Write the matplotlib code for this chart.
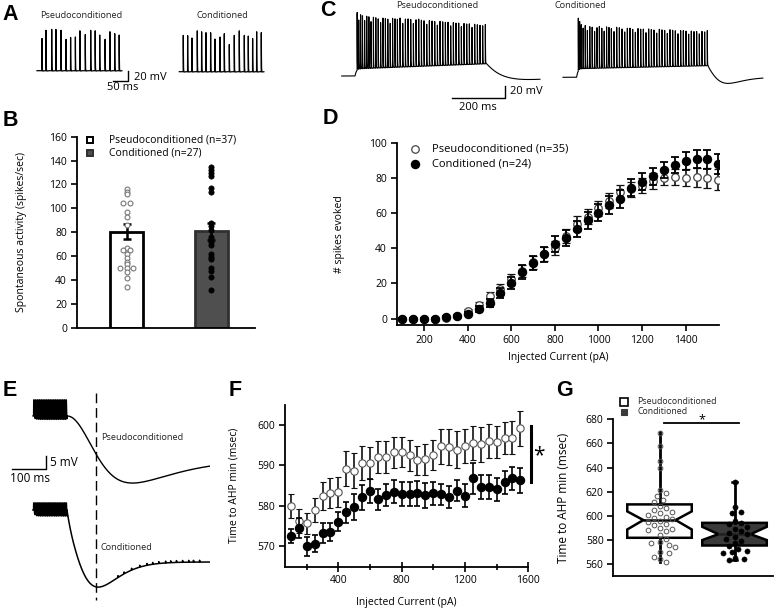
import numpy as np
import matplotlib
matplotlib.use("Agg")
import matplotlib.pyplot as plt
from matplotlib.lines import Line2D
from matplotlib.ticker import FixedLocator

plt.rcParams['font.family'] = ['Open Sans', 'DejaVu Sans']

W, H = 775, 611
fig = plt.figure(figsize=(W / 100, H / 100), dpi=100)

# ======================= DATA =======================
groups = ['Pseudoconditioned', 'Conditioned']

# Panel A: spontaneous firing examples (spike time ms, amplitude mV)
a_pseudo_times = [16.7, 30, 49, 63, 80, 96.7, 112, 128, 143, 161, 179, 194, 209, 227, 243, 259, 274]
a_pseudo_amps = [71, 85, 87, 87, 85, 69, 70, 71, 84, 76, 85, 84, 75, 66, 82, 78, 75]
a_cond_times = [13.3, 27.8, 42.2, 60, 74.4, 88.9, 104.4, 118.9, 135.6, 150, 166.7, 183.3,
                200, 216.7, 230, 244.4, 257.8, 273.3]
a_cond_amps = [80, 76, 71, 86, 84, 86, 82, 72, 73, 80, 60, 80, 86, 80, 75, 70, 84, 86]

# Panel C: evoked firing examples (first spike ms, inter-spike intervals ms, amplitudes mV)
c_pseudo_first = 58
c_pseudo_isi = [6, 7, 7, 8, 8, 8, 8] + [9] * 11 + [10] * 33
c_pseudo_amps = [94, 80, 88, 86, 78, 85, 84, 76, 83, 82,
                 80, 74, 81, 80, 79, 72, 80, 79, 78, 80,
                 71, 78, 78, 77, 70, 76, 77, 75, 74, 68,
                 74, 73, 72, 66, 72, 71, 70, 70, 64, 69,
                 68, 68, 62, 67, 66, 66, 60, 65, 64, 63,
                 62, 64]
c_cond_first = 57.5
c_cond_isi = [5, 6, 7, 8, 8] + [9] * 10 + [10] * 36
c_cond_amps = [86, 78, 72, 66, 70, 62, 68, 67, 60, 66,
               68, 65, 60, 67, 66, 64, 59, 66, 65, 63,
               58, 64, 64, 62, 57, 63, 62, 62, 56, 62,
               61, 60, 55, 61, 60, 59, 54, 60, 59, 58,
               53, 58, 58, 57, 52, 57, 56, 56, 52, 56,
               55, 57]
# step: onset, offset (ms), plateau start/end (mV), post-step (tau, undershoot, t_min, shape)
c_pseudo_step = dict(on=50, off=544, v_start=11.5, v_end=20, tau=45, vx=-6.5, tm=130, a=1.5, end=744)
c_cond_step = dict(on=51, off=544, v_start=14, v_end=19, tau=20, vx=-10.4, tm=71, a=2.5, end=750)

# Panel E: AHP after step (ms relative to step end, mV)
e_spike_times = [-98, -92.5, -87, -81.8, -76.5, -71.2, -66, -60.8, -55.5, -50.3, -45,
                 -39.8, -34.6, -29.3, -24, -18.8, -13.6, -8.4, -3.2]
e_pseudo_ahp = dict(vs=17, tg=100, p=2, vx=9.4, tm=170, a=2.5, clip=6.2, trough=2.6)
e_cond_ahp = dict(vs=20, tg=22, p=1, vx=10.0, tm=88, a=3, clip=2.7, trough=3.9)
e_cond_noise_times = [150, 168, 190, 214, 235, 252, 270, 290, 305, 322, 340, 358, 372, 390]
e_ahp_marker = 85  # ms, dashed line

# Panel B: spontaneous activity
b_n = [37, 27]
b_means = [80.4, 80.6]
b_sem = [6.3, 7.5]
b_pseudo_pts = [115.9, 113.4, 111.7, 104.2, 104.2, 96.6, 93, 86, 67, 65, 65, 61.5, 58,
                55.3, 53, 49.7, 49.7, 49.7, 47, 41.9, 34.4]
b_cond_pts = [134.4, 132, 130, 127.4, 117.3, 113.4, 87.4, 85.5, 81.8, 76.3, 74, 71.5,
              69.3, 61.5, 59.5, 57.5, 49.7, 47.5, 42.7, 31.6]

# Panel D: spikes evoked vs injected current
d_current = [100, 150, 200, 250, 300, 350, 400, 450, 500, 550, 600, 650, 700, 750, 800,
             850, 900, 950, 1000, 1050, 1100, 1150, 1200, 1250, 1300, 1350, 1400, 1450, 1500, 1550]
d_n = [35, 24]
d_pseudo = [0, 0, 0, 0, 0.5, 1.5, 4.5, 7.8, 12.9, 16.7, 22.3, 27, 32, 37, 40.3, 47, 54, 58,
            62.7, 67, 71.8, 73.5, 75.5, 78.2, 80.1, 80.3, 80.1, 80.3, 80.1, 79]
d_pseudo_err = [0.2, 0.2, 0.2, 0.3, 0.4, 0.7, 1.1, 1.8, 2.5, 3.0, 3.3, 3.6, 3.8, 4.0, 4.1,
                4.2, 4.3, 4.3, 4.3, 4.3, 4.3, 4.3, 4.3, 4.3, 4.4, 4.5, 4.8, 5.3, 5.6, 6.0]
d_cond = [0, 0, 0, 0, 0.9, 1.7, 2.8, 5.5, 9.1, 14.8, 20.5, 26.5, 31.4, 36.6, 42.2, 46, 50.9,
          55.9, 60.2, 64.6, 68, 74.4, 77.8, 81, 84.5, 87.3, 89.6, 90.7, 90.5, 87.9]
d_cond_err = [0.2, 0.2, 0.2, 0.3, 0.4, 0.6, 1.0, 1.6, 2.3, 2.9, 3.4, 3.8, 4.0, 4.3, 4.5,
              4.6, 4.7, 4.8, 4.9, 4.9, 4.9, 4.9, 4.8, 4.8, 4.8, 4.8, 5.0, 5.2, 5.3, 5.5]

# Panel F: time to AHP min vs injected current
f_current = d_current
f_pseudo = [580, 576.3, 575.7, 579, 582.5, 583.2, 583.5, 589.2, 588.7, 590.6, 590.6, 592.1,
            592.1, 593.2, 593.3, 592.5, 591.3, 591.5, 592.5, 594.7, 594.6, 593.9, 594.9,
            595.6, 595.2, 596, 595.7, 596.8, 596.8, 599.2]
f_pseudo_err = [2.9, 3.0, 2.6, 3.0, 3.5, 3.7, 3.7, 4.4, 4.3, 4.2, 4.0, 3.9, 3.9, 3.8, 3.6,
                3.8, 3.6, 3.8, 3.7, 4.3, 4.4, 4.5, 4.2, 4.2, 4.3, 4.2, 4.0, 3.9, 4.1, 4.3]
f_cond = [572.6, 574.6, 570, 570.7, 573.4, 573.6, 576.1, 578.4, 579.7, 582.1, 583.7, 581.6,
          582.6, 583.5, 582.9, 582.9, 583.1, 582.6, 583.1, 582.9, 582.1, 583.7, 582.5,
          586.8, 584.7, 584.7, 584.1, 585.8, 586.8, 586.3]
f_cond_err = [1.8, 2.4, 2.4, 2.1, 2.5, 2.3, 2.3, 2.6, 3.2, 3.0, 3.0, 2.5, 2.7, 2.8, 2.9,
              2.9, 3.0, 3.1, 2.8, 2.6, 2.7, 2.6, 2.8, 3.8, 3.0, 3.0, 2.9, 2.8, 2.8, 3.0]

# Panel G: time to AHP min, box plots
g_pseudo_pts = [669, 657.6, 645.7, 640, 621, 619, 616, 613, 611, 608, 606, 605, 603, 602,
                601, 599, 598, 597, 596, 595, 593, 592, 590, 589, 588, 587, 584, 581, 578,
                577, 576, 574, 570, 569, 566, 563.7, 561.8]
g_cond_pts = [627.8, 607, 603, 602, 596, 594, 593, 591, 589, 587, 586, 584.5, 582.5, 581,
              579, 577, 575, 572, 571, 570, 569, 565, 564, 563]
g_pseudo_box = dict(med=596.4, q1=581.7, q3=609.4, whislo=561.5, whishi=669.5, cilo=588.6, cihi=603.6)
g_cond_box = dict(med=584.7, q1=575.3, q3=594.1, whislo=563, whishi=628.2, cilo=579.8, cihi=590.8)


# ======================= HELPERS =======================
def px_axes(x0, y0, x1, y1):
    return fig.add_axes([x0 / W, 1 - y1 / H, (x1 - x0) / W, (y1 - y0) / H])


def ftext(x, y, s, **kw):
    kw.setdefault('va', 'center')
    fig.text(x / W, 1 - y / H, s, **kw)


def fline(xs, ys, **kw):
    fig.add_artist(Line2D([x / W for x in xs], [1 - y / H for y in ys],
                          transform=fig.transFigure, **kw))


def trace_axes(box, ms_px, mv_px, t0_px, v0_px):
    x0, y0, x1, y1 = box
    ax = px_axes(x0, y0, x1, y1)
    ax.set_axis_off()
    ax.set_xlim((x0 - t0_px) * ms_px, (x1 - t0_px) * ms_px)
    ax.set_ylim((v0_px - y1) * mv_px, (v0_px - y0) * mv_px)
    return ax


def spike_sum(t, times, amps, tau=0.45, rise=0.3, ahp=2.5, tau_ahp=2.5, slow=0.0, tau_slow=2.5):
    v = np.zeros_like(t)
    for ti, a in zip(times, amps):
        dt = t - ti
        r = (dt > -rise) & (dt < 0)
        v[r] += a * (1 + dt[r] / rise)
        f = dt >= 0
        d = dt[f]
        v[f] += (a * ((1 - slow) * np.exp(-d / tau) + slow * np.exp(-d / tau_slow))
                 - ahp * (1 - np.exp(-d / 0.5)) * np.exp(-d / tau_ahp))
    return v


def alpha_fn(dt, tm, a):
    return (dt / tm) ** a * np.exp(a * (1 - dt / tm))


def step_trace(first, isi, amps, st):
    t = np.arange(0, st['end'], 0.05)
    times = np.cumsum([first] + isi)
    v = np.zeros_like(t)
    on, off = st['on'], st['off']
    m = (t >= on) & (t < off)
    lvl = st['v_start'] + (st['v_end'] - st['v_start']) * (t[m] - on) / (off - on)
    v[m] = lvl * (1 - np.exp(-(t[m] - on) / 5))
    p = t >= off
    dt = t[p] - off
    v[p] = st['v_end'] * np.exp(-dt / st['tau']) + st['vx'] * alpha_fn(dt, st['tm'], st['a'])
    v += spike_sum(t, times, amps, ahp=4.0, tau_ahp=3.0, slow=0.13, tau_slow=2.0)
    return t, v


def ahp_trace(prm, noise_times=None):
    t_pre = np.arange(-100, 0, 0.05)
    v_pre = spike_sum(t_pre, e_spike_times, [45] * len(e_spike_times), tau=0.9,
                      ahp=prm['trough'] * 2.2, tau_ahp=3)
    v_pre = np.minimum(v_pre, prm['clip'])
    t_post = np.arange(0, 470, 0.1)
    g = 1 - np.exp(-(t_post / prm['tg']) ** prm['p'])
    v_post = -prm['vs'] * g - prm['vx'] * alpha_fn(t_post, prm['tm'], prm['a'])
    if noise_times:
        v_post += spike_sum(t_post, noise_times, [0.7] * len(noise_times), tau=0.5, ahp=0)
    return np.concatenate([t_pre, t_post]), np.concatenate([v_pre, v_post])


def group_offsets(vals, spacing):
    offs = np.zeros(len(vals))
    vals = np.asarray(vals)
    used = np.zeros(len(vals), bool)
    for i in range(len(vals)):
        if used[i]:
            continue
        idx = np.where((np.abs(vals - vals[i]) < 0.5) & ~used)[0]
        k = len(idx)
        offs[idx] = (np.arange(k) - (k - 1) / 2) * spacing
        used[idx] = True
    return offs


def swarm(ax, xc, vals, diam_px, step_px):
    # simple deterministic beeswarm in pixel space
    pts = []
    xs = []
    for v in vals:
        xd, yd = ax.transData.transform((xc, v))
        k = 0
        while True:
            cand = [0] if k == 0 else [k * step_px, -k * step_px]
            ok = None
            for c in cand:
                if all((xd + c - px) ** 2 + (yd - py) ** 2 >= diam_px ** 2 for px, py in pts):
                    ok = c
                    break
            if ok is not None:
                pts.append((xd + ok, yd))
                xs.append(ax.transData.inverted().transform((xd + ok, yd))[0])
                break
            k += 1
    return xs


LBL = 7.5
TRACE_LBL = 6.6
lbl_color = '#222222'

# ======================= PANEL LETTERS =======================
for s, x, y in [('A', 10, 15), ('C', 327.5, 11), ('B', 10.5, 120), ('D', 330, 119),
                ('E', 9.5, 391), ('F', 235, 390), ('G', 564.5, 391)]:
    ftext(x, y, s, fontsize=15.5, fontweight='bold', ha='center', family='Liberation Sans')

# ======================= PANEL A =======================
msA, mvA = 50 / 15, 20 / 9.5
axA1 = trace_axes((30, 15, 132, 92), msA, mvA, 37, 70.7)
tA = np.arange(0, 283, 0.04)
axA1.plot(tA, spike_sum(tA, a_pseudo_times, a_pseudo_amps), color='k', lw=0.9)
axA1.plot([254.3, 304.3, 304.3], [-21, -21, -1], color='k', lw=1.0, clip_on=False)
axA2 = trace_axes((170, 15, 275, 92), msA, mvA, 179.3, 71.7)
tA2 = np.arange(0, 282, 0.04)
axA2.plot(tA2, spike_sum(tA2, a_cond_times, a_cond_amps), color='k', lw=0.9)
ftext(81.5, 16, groups[0], fontsize=TRACE_LBL, ha='center', color=lbl_color)
ftext(222, 16, groups[1], fontsize=TRACE_LBL, ha='center', color=lbl_color)
ftext(134, 77, '20 mV', fontsize=8)
ftext(122.5, 87.5, '50 ms', fontsize=8, ha='center')

# ======================= PANEL C =======================
msC, mvC = 200 / 53.3, 20 / 12.3
axC1 = trace_axes((335, 0, 550, 100), msC, mvC, 341.7, 76)
t, v = step_trace(c_pseudo_first, c_pseudo_isi, c_pseudo_amps, c_pseudo_step)
axC1.plot(t, v, color='k', lw=0.8)
axC1.plot([412.4, 612.4, 612.4], [-36.3, -36.3, -16.3], color='k', lw=1.0, clip_on=False)
axC2 = trace_axes((558, 0, 770, 100), msC, mvC, 563, 77.3)
t, v = step_trace(c_cond_first, c_cond_isi, c_cond_amps, c_cond_step)
axC2.plot(t, v, color='k', lw=0.8)
ftext(437, 6, groups[0], fontsize=TRACE_LBL, ha='center', color=lbl_color)
ftext(580, 6, groups[1], fontsize=TRACE_LBL, ha='center', color=lbl_color)
ftext(510, 92, '20 mV', fontsize=8)
ftext(478, 108, '200 ms', fontsize=8, ha='center')

# ======================= PANEL E =======================
msE, mvE = 100 / 34, 5 / 13
axE1 = trace_axes((5, 385, 210, 490), msE, mvE, 67, 416)
t, v = ahp_trace(e_pseudo_ahp)
axE1.plot(t, v, color='k', lw=1.0)
axE1.plot([-161.8, -61.8, -61.8], [-20.4, -20.4, -15.4], color='k', lw=1.0, clip_on=False)
axE2 = trace_axes((5, 490, 210, 600), msE, mvE, 67, 510)
t, v = ahp_trace(e_cond_ahp, e_cond_noise_times)
axE2.plot(t, v, color='k', lw=1.1)
xd = axE1.transData.transform((e_ahp_marker, 0))[0]
fline([xd, xd], [393, 600], color='k', lw=1.0, ls=(0, (7, 3.5)))
ftext(101, 438, groups[0], fontsize=TRACE_LBL, color=lbl_color)
ftext(101, 548, groups[1], fontsize=TRACE_LBL, color=lbl_color)
ftext(50, 462, '5 mV', fontsize=8.5)
ftext(30, 478, '100 ms', fontsize=8.5, ha='center')


def style_axes(ax):
    for s in ['top', 'right']:
        ax.spines[s].set_visible(False)
    for s in ['left', 'bottom']:
        ax.spines[s].set_linewidth(1.3)
    ax.tick_params(labelsize=LBL, width=1.2, length=4.5, pad=2.5)


# ======================= PANEL B =======================
axB = px_axes(76.7, 136.7, 255, 327.7)
style_axes(axB)
axB.set_xlim(-0.586, 1.512)
axB.set_ylim(0, 160)
axB.set_yticks(np.arange(0, 161, 20))
axB.set_xticks([])
bw = 0.388
axB.bar(0, b_means[0], width=bw, color='white', edgecolor='black', lw=2, zorder=2)
axB.bar(1, b_means[1], width=bw, color='#4f4f4f', edgecolor='#303030', lw=2, zorder=2)
axB.errorbar([0, 1], b_means, yerr=b_sem, fmt='none', ecolor='black', elinewidth=1.8,
             capsize=3, capthick=1.8, zorder=3)
axB.plot(group_offsets(b_pseudo_pts, 0.078), b_pseudo_pts, 'o', ms=3.5, mfc='white',
         mec='#777777', mew=0.8, zorder=4, clip_on=False)
axB.plot(1 + group_offsets(b_cond_pts, 0.078), b_cond_pts, 'o', ms=3.8, mfc='black',
         mec='black', mew=0.5, zorder=4, clip_on=False)
axB.set_ylabel('Spontaneous activity (spikes/sec)', fontsize=LBL)
axB.yaxis.set_label_coords((27 - 76.7) / 178.3, 0.5)
# legend
fig.add_artist(Line2D([90.3 / W], [1 - 139.7 / H], marker='s', ms=4.6, mfc='white', mec='black',
                      mew=1.4, transform=fig.transFigure, ls='none'))
fig.add_artist(Line2D([90.3 / W], [1 - 153.5 / H], marker='s', ms=4.6, mfc='#4f4f4f', mec='#303030',
                      mew=1.4, transform=fig.transFigure, ls='none'))
ftext(108.5, 139.7, f'{groups[0]} (n={b_n[0]})', fontsize=LBL)
ftext(108.5, 153.5, f'{groups[1]} (n={b_n[1]})', fontsize=LBL)

# ======================= PANEL D =======================
axD = px_axes(396.7, 142.7, 719, 325)
style_axes(axD)
axD.set_xlim(74, 1553)
axD.set_ylim(-3.6, 100)
axD.spines['left'].set_bounds(-3.6, 100)
axD.set_xticks(np.arange(200, 1401, 200))
axD.set_yticks(np.arange(0, 101, 20))
axD.errorbar(d_current, d_pseudo, yerr=d_pseudo_err, fmt='o', ms=5.4, mfc='white', mec='#444444',
             mew=0.9, ecolor='#111111', elinewidth=1.2, capsize=2.6, capthick=1.2, zorder=3)
axD.errorbar(d_current, d_cond, yerr=d_cond_err, fmt='o', ms=5.8, mfc='black', mec='black',
             ecolor='black', elinewidth=1.3, capsize=2.6, capthick=1.3, zorder=4)
axD.set_ylabel('# spikes evoked', fontsize=LBL)
axD.yaxis.set_label_coords((345 - 396.7) / 322.3, 0.5)
axD.set_xlabel('Injected Current (pA)', fontsize=LBL)
axD.xaxis.set_label_coords(0.5, -(352 - 325) / 182.3)
fig.add_artist(Line2D([415 / W], [1 - 149.3 / H], marker='o', ms=5.4, mfc='white', mec='#444444',
                      mew=0.9, transform=fig.transFigure, ls='none'))
fig.add_artist(Line2D([415 / W], [1 - 163.7 / H], marker='o', ms=5.8, mfc='black', mec='black',
                      transform=fig.transFigure, ls='none'))
ftext(431.5, 149.3, f'{groups[0]} (n={d_n[0]})', fontsize=8)
ftext(431.5, 163.7, f'{groups[1]} (n={d_n[1]})', fontsize=8)

# ======================= PANEL F =======================
axF = px_axes(285, 405, 528.3, 566.7)
style_axes(axF)
axF.set_xlim(63, 1600)
axF.set_ylim(565, 604.9)
axF.xaxis.set_major_locator(FixedLocator([400, 800, 1200, 1600]))
axF.xaxis.set_minor_locator(FixedLocator([200, 600, 1000, 1400]))
axF.set_yticks([570, 580, 590, 600])
axF.tick_params(axis='x', which='major', direction='inout', length=7, width=1.2)
axF.tick_params(axis='x', which='minor', direction='inout', length=5, width=1.2)
axF.errorbar(f_current, f_pseudo, yerr=f_pseudo_err, fmt='o', ms=5.3, mfc='white', mec='#555555',
             mew=0.8, ecolor='#111111', elinewidth=1.2, capsize=2.5, capthick=1.2, zorder=3)
axF.errorbar(f_current, f_cond, yerr=f_cond_err, fmt='o', ms=5.8, mfc='black', mec='black',
             ecolor='black', elinewidth=1.2, capsize=2.5, capthick=1.2, zorder=4)
axF.set_ylabel('Time to AHP min (msec)', fontsize=LBL)
axF.yaxis.set_label_coords((239.3 - 285) / 243.3, 0.5)
axF.set_xlabel('Injected Current (pA)', fontsize=LBL)
axF.xaxis.set_label_coords(0.5, -(597 - 566.7) / 161.7)
axF.plot([1617, 1617], [599.7, 585.9], color='black', lw=2.2, clip_on=False)
axF.text(1665, 592.3, '*', fontsize=15, ha='center', va='center', clip_on=False)

# ======================= PANEL G =======================
axG = px_axes(613.3, 419.3, 773, 576)
style_axes(axG)
axG.set_xlim(0.384, 2.513)
axG.set_ylim(550, 680)
stats = [dict(g_pseudo_box, fliers=[]), dict(g_cond_box, fliers=[])]
bp = axG.bxp(stats, positions=[1, 2], widths=0.86, shownotches=True, patch_artist=True,
             showfliers=False, capwidths=[0.0, 0.07],
             boxprops=dict(linewidth=1.8, edgecolor='black'),
             whiskerprops=dict(linewidth=2.0, color='black'),
             capprops=dict(linewidth=1.8, color='black'),
             medianprops=dict(linewidth=1.8, color='black'))
bp['boxes'][0].set_facecolor('white')
bp['boxes'][1].set_facecolor('#3a3a3a')
bp['medians'][1].set_color('#222222')
for b in bp['boxes']:
    b.set_zorder(2)
axG.set_xlim(0.384, 2.513)
axG.set_xticks([])
axG.set_yticks(np.arange(560, 681, 20))
xs_p = swarm(axG, 1, g_pseudo_pts, 6.2, 3.0)
xs_c = swarm(axG, 2, g_cond_pts, 6.4, 3.0)
axG.plot(xs_p, g_pseudo_pts, 'o', ms=3.4, mfc='none', mec='#555555', mew=0.7, zorder=4, clip_on=False)
axG.plot(xs_c, g_cond_pts, 'o', ms=3.7, mfc='black', mec='black', mew=0.4, zorder=4, clip_on=False)
axG.set_ylabel('Time to AHP min (msec)', fontsize=8.5)
axG.yaxis.set_label_coords((570 - 613.3) / 159.7, 0.5)
axG.plot([1.06, 2.056], [676.7, 676.7], color='black', lw=1.3, clip_on=False)
axG.text(1.56, 679.3, '*', fontsize=9, ha='center', va='center', clip_on=False)
fig.add_artist(Line2D([624.2 / W], [1 - 401.7 / H], marker='s', ms=5.2, mfc='white', mec='black',
                      mew=1.2, transform=fig.transFigure, ls='none'))
fig.add_artist(Line2D([624.2 / W], [1 - 411.8 / H], marker='s', ms=4.6, mfc='#3a3a3a', mec='#3a3a3a',
                      mew=0.8, transform=fig.transFigure, ls='none'))
ftext(637.5, 401.5, groups[0], fontsize=6.3, color=lbl_color)
ftext(637.5, 412, groups[1], fontsize=6.3, color=lbl_color)

fig.savefig('out.png', dpi=100)
